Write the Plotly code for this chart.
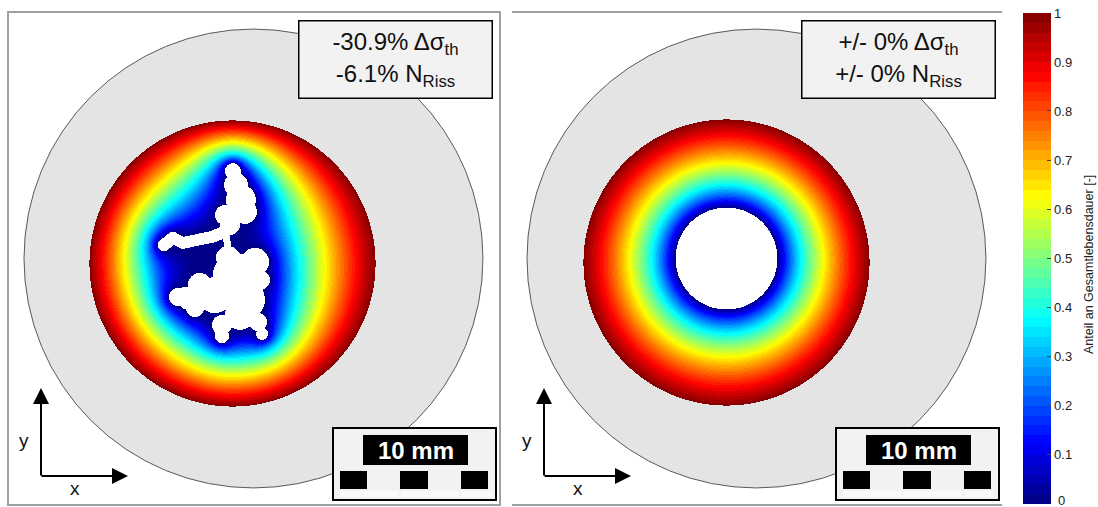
import numpy as np
import plotly.graph_objects as go

W, H = 1098, 507
PX_PER_MM = 15.3

# ---------------- data (mm, origin = disc centre) ----------------
DISC_RADIUS = 15.0
RING_CENTER_LEFT = (-1.37, -0.33)
RING_CENTER_RIGHT = (-1.99, -0.23)
RING_RADIUS = 9.35
HOLE_CENTER = (-1.99, 0.03)
HOLE_RADIUS = 3.33

# irregular crack (left panel) as union of capsules: start point, end point, radius
CRACK_X1 = [-1.21, -0.56, -2.52, 0.10, -1.67, -3.50, -4.48, -4.93, -3.82, 0.42, -2.06, -2.06,
            0.29, 0.56, -0.88, -3.50, -4.30,
            -1.34, -1.14, -0.82, -0.56, -1.86, -1.54,
            -2.06, -2.71, -3.69, -4.61, -5.26, -1.80]
CRACK_Y1 = [-1.08, -2.71, -2.39, -0.23, 0.03, -1.73, -2.52, -2.52, -3.24, -1.41, -4.35, -5.07,
            -4.15, -4.93, -3.69, -2.39, -2.75,
            5.70, 4.80, 3.82, 3.04, 2.84, 2.19,
            1.67, 1.41, 1.21, 1.01, 1.34, 1.73]
CRACK_X2 = [-1.21, -0.56, -2.52, 0.10, -1.67, -3.50, -4.48, -4.93, -3.82, 0.42, -2.06, -2.06,
            0.29, 0.56, -0.88, -3.50, -4.30,
            -1.34, -1.14, -0.82, -0.56, -1.86, -1.54,
            -2.71, -3.69, -4.61, -5.26, -5.85, -1.67]
CRACK_Y2 = [-1.08, -2.71, -2.39, -0.23, 0.03, -1.73, -2.52, -2.52, -3.24, -1.41, -4.35, -5.07,
            -4.15, -4.93, -3.69, -2.39, -2.75,
            5.70, 4.80, 3.82, 3.04, 2.84, 2.19,
            1.41, 1.21, 1.01, 1.34, 0.88, 0.56]
CRACK_R = [1.44, 1.31, 1.18, 0.92, 0.78, 0.78, 0.65, 0.59, 0.59, 0.65, 0.65, 0.46,
           0.59, 0.39, 0.98, 0.80, 0.60,
           0.52, 0.78, 0.98, 0.78, 0.65, 0.65,
           0.39, 0.38, 0.38, 0.38, 0.40, 0.23]

CBAR_TICKS = [0, 0.1, 0.2, 0.3, 0.4, 0.5, 0.6, 0.7, 0.8, 0.9, 1]
CBAR_LABELS = ["0", "0.1", "0.2", "0.3", "0.4", "0.5", "0.6", "0.7", "0.8", "0.9", "1"]
CBAR_TITLE = "Anteil an Gesamtlebensdauer [-]"
BOX_LEFT = ["-30.9% Δσ<sub>th</sub>", "-6.1% N<sub>Riss</sub>"]
BOX_RIGHT = ["+/- 0% Δσ<sub>th</sub>", "+/- 0% N<sub>Riss</sub>"]
SCALE_LABEL = "10 mm"
N_LEVELS = 50
ZMIN, ZMAX = -0.001, 1.001

FONT = "Arial, Liberation Sans, sans-serif"


# ---------------- field: life fraction between crack front (0) and outer front (1) -------------
def seg_dist(X, Y, x1, y1, x2, y2):
    dx, dy = x2 - x1, y2 - y1
    L2 = dx * dx + dy * dy
    if L2 == 0:
        return np.hypot(X - x1, Y - y1)
    t = np.clip(((X - x1) * dx + (Y - y1) * dy) / L2, 0, 1)
    return np.hypot(X - (x1 + t * dx), Y - (y1 + t * dy))


def crack_distance(X, Y):
    d = np.full(X.shape, np.inf)
    for x1, y1, x2, y2, r in zip(CRACK_X1, CRACK_Y1, CRACK_X2, CRACK_Y2, CRACK_R):
        d = np.minimum(d, seg_dist(X, Y, x1, y1, x2, y2) - r)
    return d


def hole_distance(X, Y):
    return np.hypot(X - HOLE_CENTER[0], Y - HOLE_CENTER[1]) - HOLE_RADIUS


def solve_field(center, R, inner_dist):
    cx, cy = center
    h = 1.0 / PX_PER_MM
    n = int(np.ceil((R + 0.25) / h))
    xs = cx + np.arange(-n, n + 1) * h
    ys = cy + np.arange(-n, n + 1) * h
    X, Y = np.meshgrid(xs, ys)
    d_out = R - np.hypot(X - cx, Y - cy)
    d_in = inner_dist(X, Y)
    outside = d_out <= 0
    inside = (d_in <= 0) & ~outside
    a = np.maximum(d_in, 0)
    b = np.maximum(d_out, 0)
    u = a / (a + b + 1e-9)
    u[outside] = 1.0
    u[inside] = 0.0
    free = ~(outside | inside)
    ii, jj = np.indices(u.shape)
    masks = [(((ii + jj) % 2) == p)[1:-1, 1:-1] & free[1:-1, 1:-1] for p in (0, 1)]
    omega = 2.0 / (1.0 + np.sin(np.pi / u.shape[0]))
    for _ in range(700):
        for m in masks:
            c = u[1:-1, 1:-1]
            avg = 0.25 * (u[:-2, 1:-1] + u[2:, 1:-1] + u[1:-1, :-2] + u[1:-1, 2:])
            c[m] += omega * (avg[m] - c[m])
    z = np.where(free, np.round(u, 3), np.nan)
    zmask = np.where(inside, 1.0, np.nan)
    return xs, ys, z, zmask


def jet(v):
    r = np.clip(1.5 - abs(4 * v - 3), 0, 1)
    g = np.clip(1.5 - abs(4 * v - 2), 0, 1)
    b = np.clip(1.5 - abs(4 * v - 1), 0, 1)
    return "rgb(%d,%d,%d)" % (round(r * 255), round(g * 255), round(b * 255))


colorscale = []
for k in range(N_LEVELS):
    col = jet((k + 0.5) / N_LEVELS)
    colorscale.append([k / N_LEVELS, col])
    colorscale.append([(k + 1) / N_LEVELS, col])
white_scale = [[0, "white"], [1, "white"]]

xl, yl, zl, ml = solve_field(RING_CENTER_LEFT, RING_RADIUS, crack_distance)
xr, yr, zr, mr = solve_field(RING_CENTER_RIGHT, RING_RADIUS, hole_distance)


# ---------------- figure ----------------
def px(x):
    return x / W


def py(y):
    return 1 - y / H


fig = go.Figure()
fig.add_trace(go.Heatmap(x=xl, y=yl, z=zl, zmin=ZMIN, zmax=ZMAX, colorscale=colorscale,
                         showscale=False, hoverinfo="skip", xaxis="x", yaxis="y"))
fig.add_trace(go.Heatmap(x=xl, y=yl, z=ml, zmin=0, zmax=1, colorscale=white_scale,
                         showscale=False, hoverinfo="skip", xaxis="x", yaxis="y"))
fig.add_trace(go.Heatmap(
    x=xr, y=yr, z=zr, zmin=ZMIN, zmax=ZMAX, colorscale=colorscale, hoverinfo="skip",
    xaxis="x2", yaxis="y2", showscale=True,
    colorbar=dict(x=px(1023), xanchor="left", xpad=0, ypad=0,
                  y=py(258), yanchor="middle", len=491, lenmode="pixels",
                  thickness=28, thicknessmode="pixels", outlinewidth=0,
                  tickvals=CBAR_TICKS[1:], ticktext=CBAR_LABELS[1:], ticks="inside",
                  ticklen=4, tickcolor="#444", tickwidth=1,
                  tickfont=dict(family=FONT, size=13, color="#222"))))
fig.add_trace(go.Heatmap(x=xr, y=yr, z=mr, zmin=0, zmax=1, colorscale=white_scale,
                         showscale=False, hoverinfo="skip", xaxis="x2", yaxis="y2"))

axis_common = dict(showgrid=False, zeroline=False, showticklabels=False, ticks="",
                   showline=True, mirror=True, linecolor="#a0a0a0", linewidth=1.5)
xrange = [-15.98, 16.05]
yrange = [-16.05, 16.05]

shapes = []
annotations = []
for xa, ya, dx, box in [("x", "y", 0, BOX_LEFT), ("x2", "y2", 503, BOX_RIGHT)]:
    shapes.append(dict(type="circle", xref=xa, yref=ya, x0=-DISC_RADIUS, x1=DISC_RADIUS,
                       y0=-DISC_RADIUS, y1=DISC_RADIUS, fillcolor="#e4e4e4",
                       line=dict(color="#5a5a5a", width=1), layer="below"))
    # result box
    annotations.append(dict(xref="paper", yref="paper", x=px(395 + dx), y=py(59),
                            xanchor="center", yanchor="middle",
                            text="<br>".join(box), showarrow=False, align="center",
                            width=192, height=76, bgcolor="#f2f2f2", bordercolor="#000",
                            borderwidth=1.5, borderpad=0,
                            font=dict(family=FONT, size=24, color="#111")))
    # scale bar box
    shapes.append(dict(type="rect", xref="paper", yref="paper", x0=px(333 + dx), x1=px(496 + dx),
                       y0=py(500), y1=py(428), fillcolor="#f2f2f2", line=dict(color="#000", width=2)))
    shapes.append(dict(type="rect", xref="paper", yref="paper", x0=px(363 + dx), x1=px(468 + dx),
                       y0=py(465), y1=py(435), fillcolor="#000", line=dict(width=0)))
    for a0, a1 in [(340, 367), (400, 428), (461, 488)]:
        shapes.append(dict(type="rect", xref="paper", yref="paper", x0=px(a0 + dx), x1=px(a1 + dx),
                           y0=py(489), y1=py(471), fillcolor="#000", line=dict(width=0)))
    for a0, a1 in [(340, 398), (401, 459), (462, 490)]:
        shapes.append(dict(type="rect", xref="paper", yref="paper", x0=px(a0 + dx), x1=px(a1 + dx),
                           y0=py(497), y1=py(491), fillcolor="#fafafa", line=dict(width=0)))
    annotations.append(dict(xref="paper", yref="paper", x=px(415.5 + dx), y=py(450),
                            xanchor="center", yanchor="middle",
                            text="<b>%s</b>" % SCALE_LABEL, showarrow=False,
                            font=dict(family=FONT, size=24, color="#fff")))
    # coordinate arrows
    annotations.append(dict(xref="paper", yref="paper", x=px(41 + dx), y=py(388), ax=0, ay=89,
                            axref="pixel", ayref="pixel", text="", showarrow=True,
                            arrowhead=2, arrowsize=1.6, arrowwidth=2, arrowcolor="#000"))
    annotations.append(dict(xref="paper", yref="paper", x=px(128 + dx), y=py(476), ax=-88, ay=0,
                            axref="pixel", ayref="pixel", text="", showarrow=True,
                            arrowhead=2, arrowsize=1.6, arrowwidth=2, arrowcolor="#000"))
    annotations.append(dict(xref="paper", yref="paper", x=px(24 + dx), y=py(440), text="y",
                            xanchor="center", yanchor="middle",
                            showarrow=False, font=dict(family=FONT, size=19, color="#111")))
    annotations.append(dict(xref="paper", yref="paper", x=px(75 + dx), y=py(488), text="x",
                            xanchor="center", yanchor="middle",
                            showarrow=False, font=dict(family=FONT, size=19, color="#111")))

# bottom colorbar label (sits at the page edge in the reference)
annotations.append(dict(xref="paper", yref="paper", x=px(1056), y=py(500), text=CBAR_LABELS[0],
                        xanchor="left", yanchor="middle", showarrow=False,
                        font=dict(family=FONT, size=13, color="#222")))
# colorbar title
annotations.append(dict(xref="paper", yref="paper", x=px(1089), y=py(265), text=CBAR_TITLE,
                        textangle=-90, xanchor="center", yanchor="middle", showarrow=False,
                        font=dict(family=FONT, size=12.5, color="#222")))

fig.update_layout(
    width=W, height=H, margin=dict(l=0, r=0, t=0, b=0),
    paper_bgcolor="white", plot_bgcolor="white", showlegend=False,
    xaxis=dict(domain=[px(9), px(499)], range=xrange, **axis_common),
    yaxis=dict(domain=[py(504), py(13)], range=yrange, **axis_common),
    xaxis2=dict(domain=[px(512), px(1002)], range=xrange, **axis_common),
    yaxis2=dict(domain=[py(504), py(13)], range=yrange, **axis_common),
    shapes=shapes, annotations=annotations,
)

fig.write_html("out.html", config={"displayModeBar": False},
               post_script="document.body.style.margin='0px';document.body.style.padding='0px';")
